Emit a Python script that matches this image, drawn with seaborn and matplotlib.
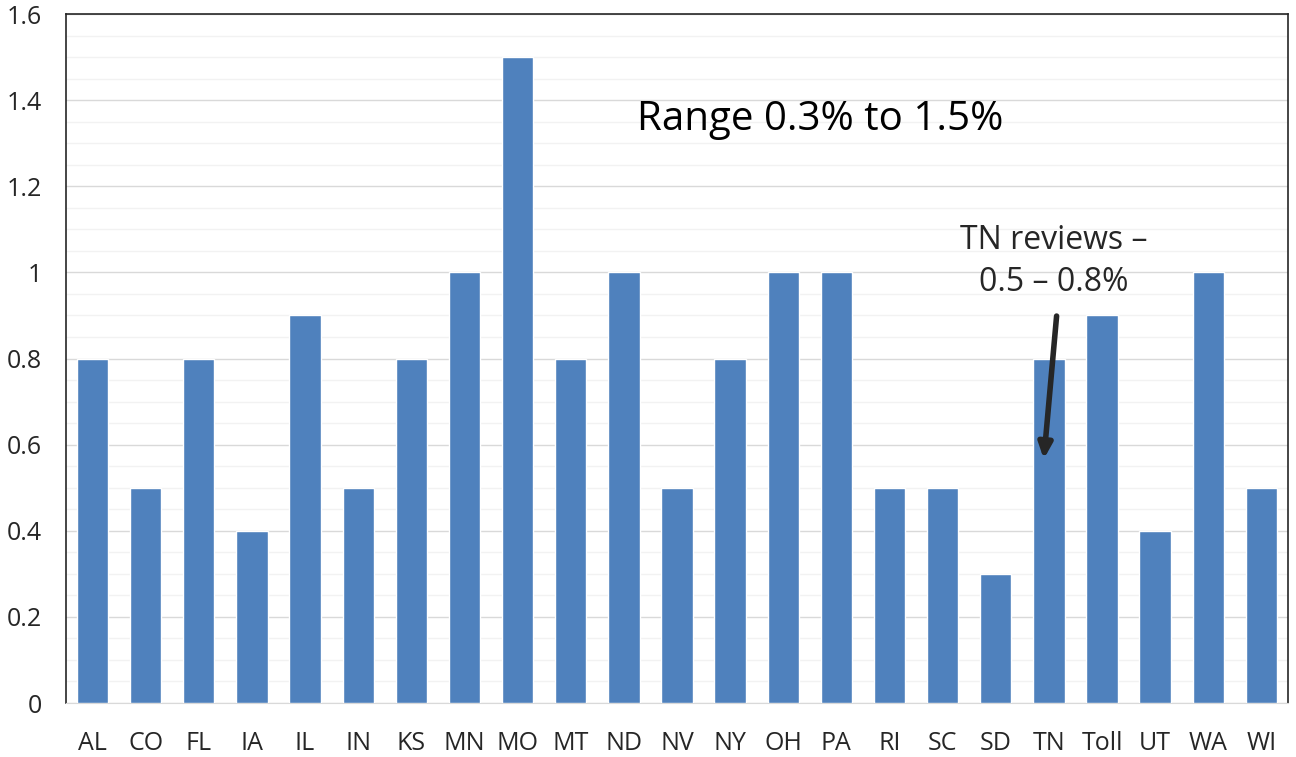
import pandas as pd
import matplotlib.pyplot as plt
import seaborn as sns
from matplotlib.ticker import MultipleLocator, FuncFormatter

states = ["AL", "CO", "FL", "IA", "IL", "IN", "KS", "MN", "MO", "MT", "ND", "NV",
          "NY", "OH", "PA", "RI", "SC", "SD", "TN", "Toll", "UT", "WA", "WI"]
rates = [0.8, 0.5, 0.8, 0.4, 0.9, 0.5, 0.8, 1.0, 1.5, 0.8, 1.0, 0.5,
         0.8, 1.0, 1.0, 0.5, 0.5, 0.3, 0.8, 0.9, 0.4, 1.0, 0.5]
yticks = [0, 0.2, 0.4, 0.6, 0.8, 1.0, 1.2, 1.4, 1.6]

df = pd.DataFrame({"state": states, "rate": rates})

sns.set_style("white")
plt.rcParams["font.family"] = ["Open Sans", "DejaVu Sans"]

fig = plt.figure(figsize=(12.96, 7.57), dpi=100)
ax = fig.add_axes([0.0509, 0.0713, 0.9429, 0.9102])

sns.barplot(data=df, x="state", y="rate", color="#4F81BD", saturation=1,
            width=0.59, ax=ax, zorder=3)

ax.set_ylim(0, 1.6)
ax.set_xlim(-0.5, len(states) - 0.5)
ax.set_yticks(yticks)
ax.yaxis.set_major_formatter(FuncFormatter(lambda v, p: f"{v:g}"))
ax.yaxis.set_minor_locator(MultipleLocator(0.05))
ax.grid(axis="y", which="major", color="#D9D9D9", linewidth=1, zorder=0)
ax.grid(axis="y", which="minor", color="#F2F2F2", linewidth=1, zorder=0)
ax.set_axisbelow(True)

for side in ["left", "top", "right"]:
    ax.spines[side].set_color("#262626")
    ax.spines[side].set_linewidth(1.2)
ax.spines["bottom"].set_color("#D9D9D9")

ax.set_xlabel("")
ax.set_ylabel("")
ax.tick_params(axis="x", labelsize=18, length=0, pad=20)
ax.tick_params(axis="y", labelsize=18, length=0, pad=17)
ax.tick_params(which="minor", length=0)

ax.text(13.69, 1.355, "Range 0.3% to 1.5%", fontsize=29, ha="center", va="center",
        color="black")
ax.text(18.1, 1.025, "TN reviews \u2013\n0.5 \u2013 0.8%", fontsize=23, ha="center",
        va="center", color="#262626", linespacing=1.35)
ax.annotate("", xy=(17.9, 0.56), xytext=(18.15, 0.905),
            arrowprops=dict(arrowstyle="-|>,head_length=0.9,head_width=0.4",
                            color="#262626", lw=4), zorder=5)

fig.savefig("out.png", dpi=100)
